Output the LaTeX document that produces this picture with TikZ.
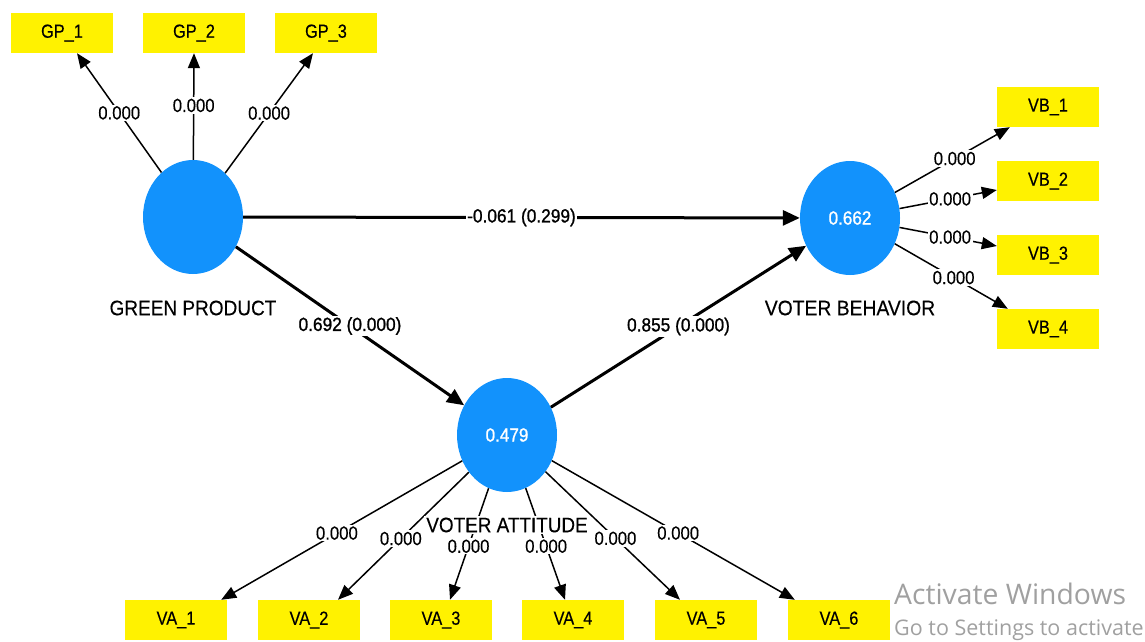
\documentclass[tikz,border=0pt]{standalone}
\usepackage{fontspec}
\usepackage{graphicx}
\setmainfont[FakeBold=0.3]{Liberation Sans}
\newfontfamily\semib[FakeBold=1.2]{Liberation Sans}
\newfontfamily\wmfont{Open Sans}
\usetikzlibrary{shapes.geometric,arrows.meta}
\definecolor{latblue}{RGB}{18,146,252}
\definecolor{wmgray}{RGB}{160,160,160}
\newcommand{\nt}[2][0.88]{\scalebox{#1}[1]{#2}}
\begin{document}
\begin{tikzpicture}[x=1pt,y=-1pt,
  ind/.style={fill=yellow, minimum width=102pt, minimum height=40pt, inner sep=0pt, font=\fontsize{19}{21}\selectfont},
  lat/.style={ellipse, fill=latblue, minimum width=100pt, minimum height=114pt, inner sep=0pt, text=white, font=\semib\fontsize{19}{21}\selectfont},
  load/.style={line width=1.5pt, -{Triangle[length=15pt,width=12pt]}},
  struct/.style={line width=3pt, -{Triangle[length=17pt,width=15pt]}},
  lbl/.style={fill=white, inner sep=1.5pt, font=\fontsize{19}{21}\selectfont},
  slbl/.style={fill=white, inner sep=1.5pt, font=\semib\fontsize{19}{21}\selectfont},
  cname/.style={fill=white, inner sep=2pt, font=\fontsize{21}{23}\selectfont}
]
\useasboundingbox (0,0) rectangle (1145,642);

% indicators
\node[ind] (gp1) at (62,33) {\nt[0.86]{GP\_1}};
\node[ind] (gp2) at (194,33) {\nt[0.86]{GP\_2}};
\node[ind] (gp3) at (326,33) {\nt[0.86]{GP\_3}};
\node[ind] (vb1) at (1048,107) {\nt[0.86]{VB\_1}};
\node[ind] (vb2) at (1048,181) {\nt[0.86]{VB\_2}};
\node[ind] (vb3) at (1048,255) {\nt[0.86]{VB\_3}};
\node[ind] (vb4) at (1048,329) {\nt[0.86]{VB\_4}};
\node[ind] (va1) at (176,620) {\nt[0.86]{VA\_1}};
\node[ind] (va2) at (309,620) {\nt[0.86]{VA\_2}};
\node[ind] (va3) at (441,620) {\nt[0.86]{VA\_3}};
\node[ind] (va4) at (573,620) {\nt[0.86]{VA\_4}};
\node[ind] (va5) at (706,620) {\nt[0.86]{VA\_5}};
\node[ind] (va6) at (839,620) {\nt[0.86]{VA\_6}};

% latent variables
\node[lat] (gp) at (193,217) {};
\node[lat] (vb) at (850,218) {\nt[0.9]{0.662}};
\node[lat] (va) at (507,435) {\nt[0.9]{0.479}};

% construct names
\node[cname] (gpname) at (193,308) {\nt[0.905]{GREEN PRODUCT}};
\node[cname] (vbname) at (850,308) {\nt[0.92]{VOTER BEHAVIOR}};

% arrow targets
\coordinate (tgp1) at ([xshift=15pt]gp1.south);
\coordinate (tgp2) at (gp2.south);
\coordinate (tgp3) at ([xshift=-13pt]gp3.south);
\coordinate (tvb1) at ([xshift=13pt]vb1.south west);
\coordinate (tvb2) at ([yshift=-9pt]vb2.west);
\coordinate (tvb3) at ([yshift=9pt]vb3.west);
\coordinate (tvb4) at ([xshift=11pt]vb4.north west);
\coordinate (tva1) at ([xshift=-6pt]va1.north east);
\coordinate (tva2) at ([xshift=29pt]va2.north);
\coordinate (tva3) at ([xshift=9pt]va3.north);
\coordinate (tva4) at ([xshift=-8pt]va4.north);
\coordinate (tva5) at ([xshift=-26pt]va5.north);
\coordinate (tva6) at ([xshift=7pt]va6.north west);

% GP loadings
\draw[load] (gp) -- (tgp1) node[lbl,pos=.5] {\nt{0.000}};
\draw[load] (gp) -- (tgp2) node[lbl,pos=.51] {\nt{0.000}};
\draw[load] (gp) -- (tgp3) node[lbl,pos=.5] {\nt{0.000}};

% VB loadings
\draw[load] (vb) -- (tvb1) node[lbl,pos=.52] {\nt{0.000}};
\draw[load] (vb) -- (tvb2) node[lbl,pos=.52] {\nt{0.000}};
\draw[load] (vb) -- (tvb3) node[lbl,pos=.52] {\nt{0.000}};
\draw[load] (vb) -- (tvb4) node[lbl,pos=.52] {\nt{0.000}};

% VA loadings (lines)
\foreach \i in {1,...,6} { \draw[load] (va) -- (tva\i); }

% VA name over lines
\node[cname] (vaname) at (507,525) {\nt[0.9]{VOTER ATTITUDE}};

% VA loading labels
\foreach \i in {1,...,6} { \path (va) -- (tva\i) node[lbl,pos=.52] {\nt{0.000}}; }

% structural paths
\draw[struct] (gp) -- (vb) node[slbl,pos=.5] {\nt[0.91]{-0.061 (0.299)}};
\draw[struct] (gp) -- (va) node[slbl,pos=.5] {\nt[0.91]{0.692 (0.000)}};
\draw[struct] (va) -- (vb) node[slbl,pos=.5] {\nt[0.91]{0.855 (0.000)}};

% watermark
\node[anchor=west, text=wmgray, inner sep=0pt, font=\wmfont\fontsize{28.3}{30}\selectfont] (wm1) at (894,594) {Activate Windows};
\node[anchor=west, text=wmgray, inner sep=0pt, font=\wmfont\fontsize{21.5}{23}\selectfont] (wm2) at (894,630) {Go to Settings to activate};
\end{tikzpicture}
\end{document}
